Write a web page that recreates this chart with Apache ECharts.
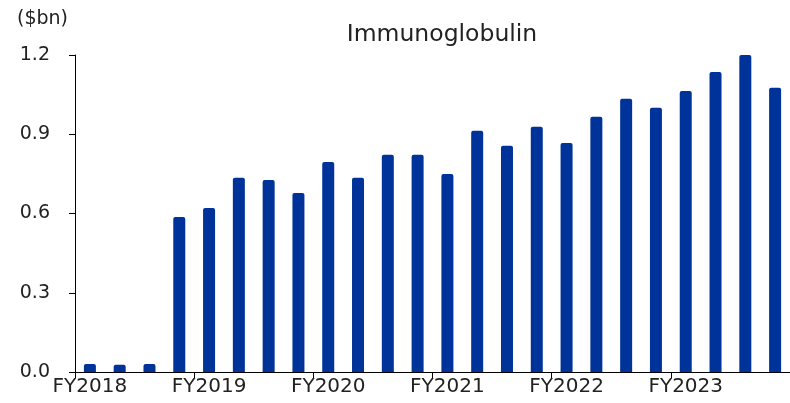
<!DOCTYPE html>
<html>
<head>
<meta charset="utf-8">
<script src="https://cdn.jsdelivr.net/npm/echarts@6/dist/echarts.min.js"></script>
<style>
html, body { margin: 0; padding: 0; background: #fff; }
#chart { width: 790px; height: 403px; }
</style>
</head>
<body>
<div id="chart"></div>
<script>
// quarterly values, FY2018 Q1 .. FY2023 Q4
const quarters = [
    'FY2018', 'FY2018Q2', 'FY2018Q3', 'FY2018Q4',
    'FY2019', 'FY2019Q2', 'FY2019Q3', 'FY2019Q4',
    'FY2020', 'FY2020Q2', 'FY2020Q3', 'FY2020Q4',
    'FY2021', 'FY2021Q2', 'FY2021Q3', 'FY2021Q4',
    'FY2022', 'FY2022Q2', 'FY2022Q3', 'FY2022Q4',
    'FY2023', 'FY2023Q2', 'FY2023Q3', 'FY2023Q4'
];
const immunoglobulin = [
    0.030, 0.027, 0.030, 0.587,
    0.621, 0.735, 0.727, 0.678,
    0.795, 0.735, 0.822, 0.822,
    0.750, 0.913, 0.856, 0.928,
    0.867, 0.966, 1.034, 1.000,
    1.064, 1.136, 1.200, 1.076
];
const yTicks = [0, 0.3, 0.6, 0.9, 1.2];

const font = 'DejaVu Sans';
const chart = echarts.init(document.getElementById('chart'));

const option = {
    animation: false,
    textStyle: { fontFamily: font },
    title: [
        {
            text: 'Immunoglobulin',
            left: 437,
            textAlign: 'center',
            top: 18,
            textStyle: { fontFamily: font, fontSize: 23.5, fontWeight: 'normal', color: '#222' }
        },
        {
            text: '($bn)',
            left: 12,
            top: 5,
            textStyle: { fontFamily: font, fontSize: 19, fontWeight: 'normal', color: '#222' }
        }
    ],
    grid: {
        left: 75,
        top: 55,
        width: 717,
        bottom: 31
    },
    xAxis: {
        type: 'category',
        data: quarters,
        boundaryGap: true,
        axisLine: { lineStyle: { color: '#000', width: 1 } },
        axisTick: { show: true, interval: 3, length: 6, lineStyle: { color: '#000' } },
        axisLabel: {
            interval: 3,
            margin: 5,
            fontFamily: font,
            fontSize: 20,
            color: '#222',
            formatter: (v) => v.length === 6 ? v : ''
        }
    },
    yAxis: {
        type: 'value',
        min: yTicks[0],
        max: yTicks[yTicks.length - 1],
        interval: 0.3,
        axisLine: { show: true, lineStyle: { color: '#000', width: 1 } },
        axisTick: { show: true, length: 6, lineStyle: { color: '#000' } },
        splitLine: { show: false },
        axisLabel: {
            margin: 25,
            fontFamily: font,
            fontSize: 19,
            color: '#222',
            formatter: (v) => v.toFixed(1)
        }
    },
    series: [
        {
            name: 'Immunoglobulin',
            type: 'bar',
            data: immunoglobulin,
            barWidth: 12,
            itemStyle: {
                color: '#003399',
                borderRadius: [2, 2, 0, 0]
            }
        }
    ]
};

chart.setOption(option);
</script>
</body>
</html>
